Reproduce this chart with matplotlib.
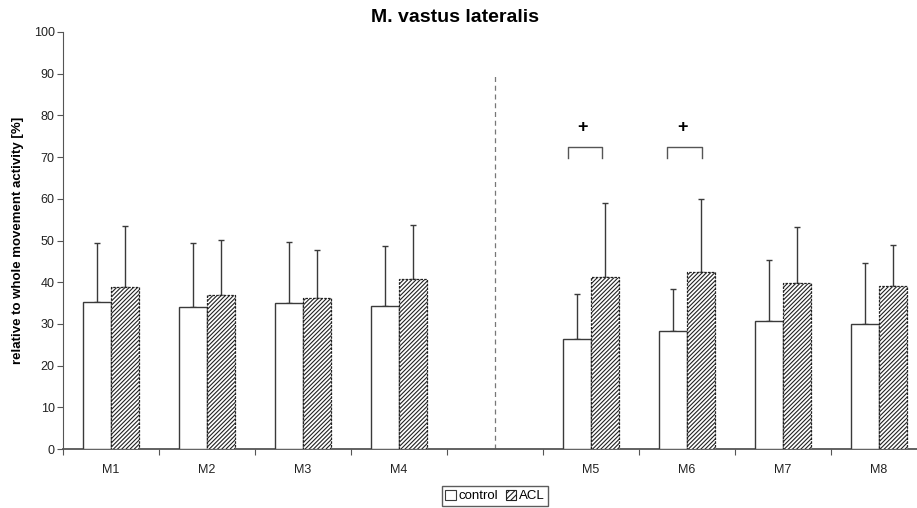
import numpy as np
import matplotlib.pyplot as plt
from matplotlib.patches import Patch

plt.rcParams['font.family'] = ['Liberation Sans', 'DejaVu Sans']
plt.rcParams['hatch.linewidth'] = 0.8

# data (blank slot between M4 and M5)
labels = ['M1', 'M2', 'M3', 'M4', '', 'M5', 'M6', 'M7', 'M8']
control = [35.2, 34.0, 35.1, 34.3, np.nan, 26.4, 28.3, 30.8, 30.0]
control_top = [49.3, 49.3, 49.7, 48.6, np.nan, 37.2, 38.3, 45.3, 44.5]
acl = [38.8, 37.0, 36.3, 40.8, np.nan, 41.2, 42.5, 39.7, 39.0]
acl_top = [53.4, 50.1, 47.8, 53.6, np.nan, 59.0, 60.0, 53.3, 48.9]

# significance brackets: group index, left/right offset, plus offset
sig_groups = [5, 6]
sig_left = [-0.24, -0.21]
sig_right = [0.11, 0.16]
sig_plus = [-0.09, -0.045]

x = np.arange(len(labels))
w = 0.29
control = np.array(control)
acl = np.array(acl)
err_c = np.array(control_top) - control
err_a = np.array(acl_top) - acl

W, H = 917, 508
fig = plt.figure(figsize=(W / 100, H / 100), dpi=100)
ax = fig.add_axes([63 / W, (H - 449) / H, 864 / W, 417 / H])

ec = '#3a3a3a'
ax.bar(x - w / 2, control, w, color='white', edgecolor=ec, linewidth=1.0, zorder=3)
ax.bar(x + w / 2, acl, w, color='white', edgecolor='#222222', hatch='////////',
       linewidth=0.9, linestyle=(0, (2, 1)), zorder=3)

ax.errorbar(x - w / 2, control, yerr=[np.zeros(len(x)), err_c], fmt='none',
            ecolor=ec, elinewidth=1.0, capsize=2.5, capthick=1.0, zorder=2)
ax.errorbar(x + w / 2, acl, yerr=[np.zeros(len(x)), err_a], fmt='none',
            ecolor=ec, elinewidth=1.0, capsize=2.5, capthick=1.0, zorder=2)

# dashed separator in the middle of the blank slot
ax.plot([4, 4], [0, 89.5], color='#777777', linestyle=(0, (4, 3)), linewidth=0.9)

for g, l, r, p in zip(sig_groups, sig_left, sig_right, sig_plus):
    ax.plot([g + l, g + l, g + r, g + r], [69.7, 72.5, 72.5, 69.7],
            color='#555555', linewidth=1.0)
    ax.text(g + p, 77, '+', ha='center', va='center', fontsize=13, fontweight='bold')

ax.set_xlim(-0.5, 8.5)
ax.set_ylim(0, 100)
ax.set_yticks(np.arange(0, 101, 10))
ax.set_xticks(np.arange(-0.5, 9, 1))
ax.set_xticklabels([])
ax.set_xticks(x, minor=True)
ax.set_xticklabels(labels, minor=True)
ax.tick_params(axis='x', which='minor', length=0, pad=11, labelsize=9, colors='#222222')
ax.tick_params(axis='x', which='major', length=4, direction='out', color='#555555')
ax.tick_params(axis='y', length=4, direction='out', color='#555555', labelsize=9,
               labelcolor='#222222', pad=2)
for s in ['top', 'right']:
    ax.spines[s].set_visible(False)
ax.spines['left'].set_color('#555555')
ax.spines['bottom'].set_color('#555555')
ax.spines['bottom'].set_linewidth(1.3)

fig.text(455 / W, 1 - 18 / H, 'M. vastus lateralis', ha='center', va='center',
         fontsize=14, fontweight='bold')
fig.text(18 / W, 1 - 240 / H, 'relative to whole movement activity [%]', rotation=90,
         ha='center', va='center', fontsize=9.5, fontweight='bold')

handles = [Patch(facecolor='white', edgecolor=ec, linewidth=0.8),
           Patch(facecolor='white', edgecolor='#222222', hatch='//////', linewidth=0.8)]
fig.legend(handles, ['control', 'ACL'], loc='center', bbox_to_anchor=(495 / W, 1 - 496 / H),
           ncol=2, fontsize=9.5, frameon=True, fancybox=False, edgecolor='#333333',
           handlelength=0.8, handleheight=0.8, handletextpad=0.2, columnspacing=0.6,
           borderpad=0.25, borderaxespad=0)

fig.savefig('out.png', dpi=100)
